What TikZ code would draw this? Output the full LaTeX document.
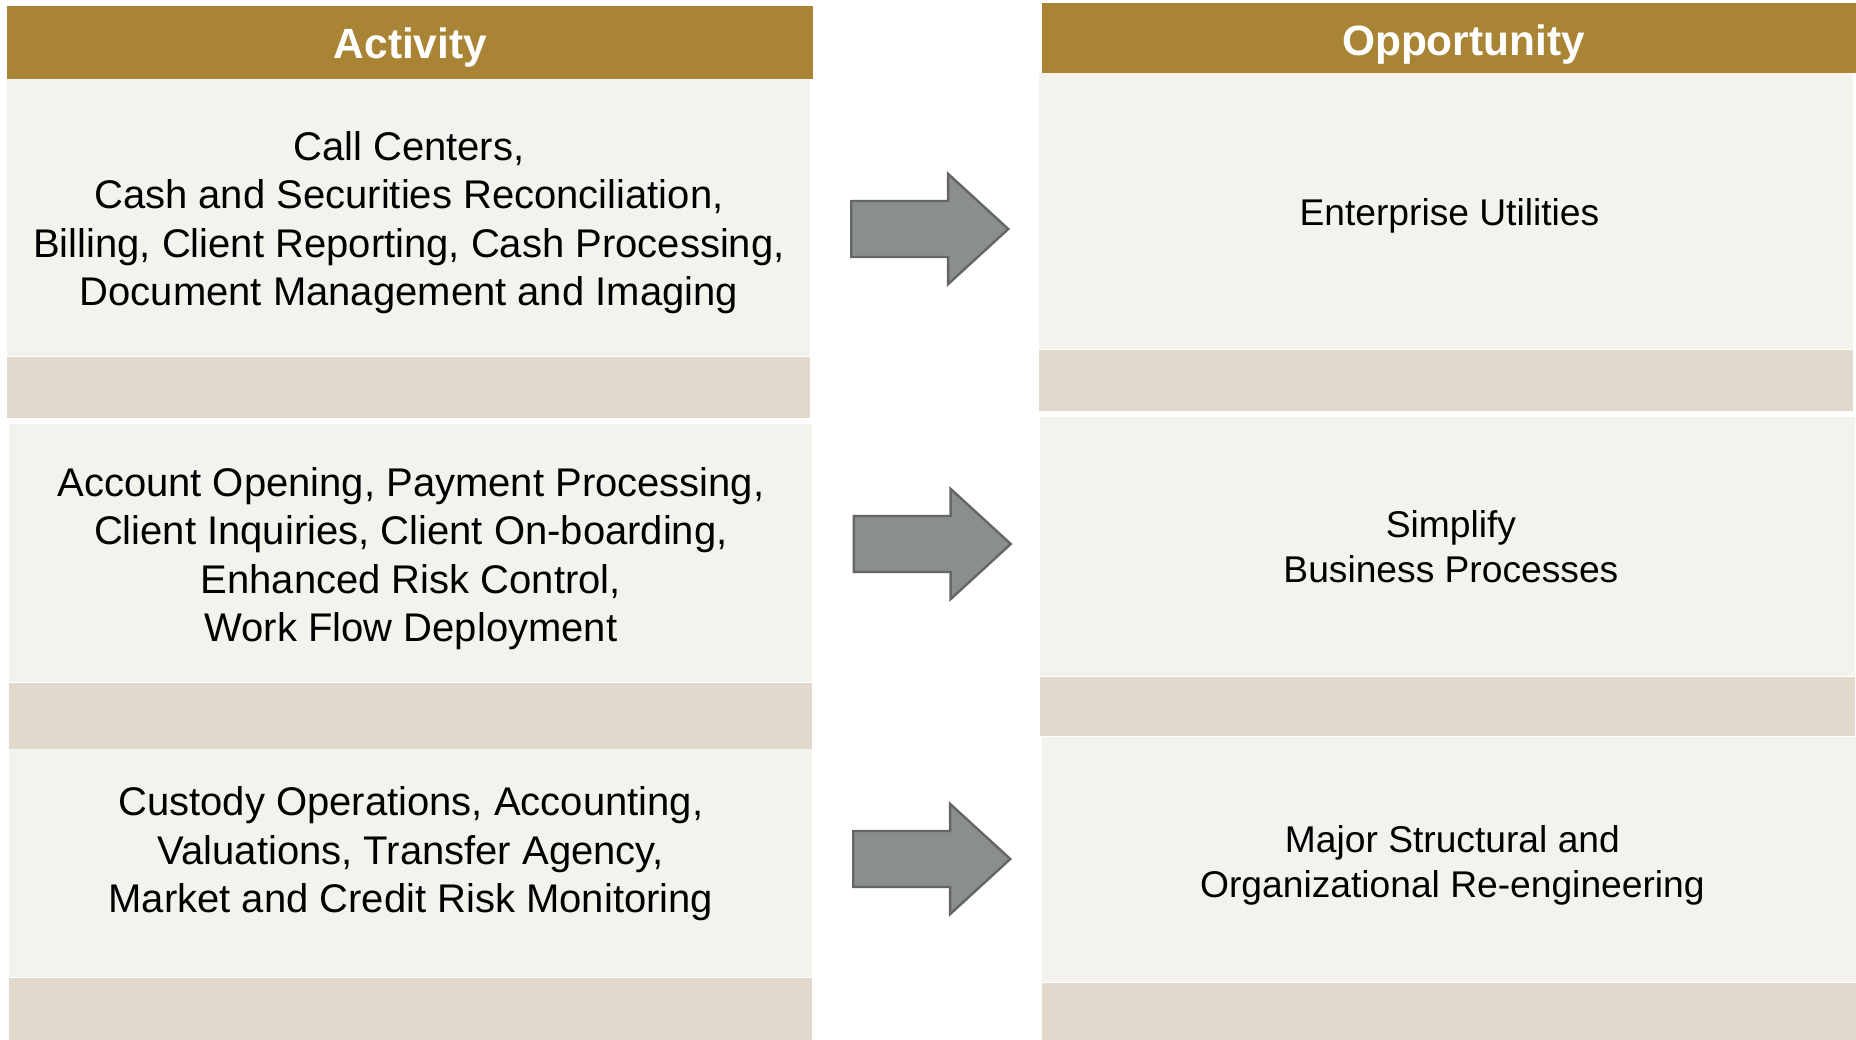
\documentclass[tikz,border=0pt]{standalone}
\usepackage{fontspec}
\setmainfont{Liberation Sans}
\usepackage{tikz}
\usetikzlibrary{positioning}
\usetikzlibrary{shapes.arrows}
\definecolor{gold}{HTML}{AA8435}
\definecolor{paper}{HTML}{F4F2ED}
\definecolor{band}{HTML}{E0D9CC}
\definecolor{arrowgray}{HTML}{8B8E8E}
\definecolor{arrowline}{HTML}{636567}
\tikzstyle{header}=[fill=gold,text=white,inner sep=0pt,anchor=north west,minimum height=36.5pt,font=\fontsize{21.2}{25}\selectfont\bfseries]
\tikzstyle{paperbox}=[fill=paper,inner sep=0pt,anchor=north west]
\tikzstyle{bandbox}=[fill=band,inner sep=0pt]
\tikzstyle{lefttext}=[align=center,inner sep=0pt,font=\fontsize{20}{24.25}\selectfont]
\tikzstyle{righttext}=[align=center,inner sep=0pt,font=\fontsize{18.6}{22.5}\selectfont]
\tikzstyle{bigarrow}=[single arrow,fill=arrowgray,draw=arrowline,line width=1.2pt,inner xsep=0pt,inner ysep=13.4pt,minimum height=78.5pt,single arrow head extend=13.6pt,single arrow tip angle=85]

\begin{document}
\begin{tikzpicture}[x=0.5pt,y=-0.5pt]
\useasboundingbox (0,0) rectangle (1856,1039);
% column heads
\node [header,minimum width=403pt] (acthead) at (7,6) {};
\node [header,minimum width=407pt,minimum height=35pt] (opphead) at (1042,3) {};
\node [header,anchor=center,fill=none,minimum height=0pt] (acttitle) at (acthead) [yshift=-2.4pt] {Activity};
\node [header,anchor=center,fill=none,minimum height=0pt] (opptitle) at (opphead) [xshift=7pt,yshift=-2.9pt] {Opportunity};

% activity column
\node [paperbox,minimum width=401.5pt,minimum height=138.5pt] (a1) at (7,79) {};
\node [bandbox,minimum width=401.5pt,minimum height=30.5pt,below=0pt of a1] (a1b) {};
\node [paperbox,minimum width=401.5pt,minimum height=129pt] (a2) at (9,424) {};
\node [bandbox,minimum width=401.5pt,minimum height=33.5pt,below=0pt of a2] (a2b) {};
\node [paperbox,minimum width=401.5pt,minimum height=114pt] (a3) at (9,749) {};
\node [bandbox,minimum width=401.5pt,minimum height=31pt,below=0pt of a3] (a3b) {};

% opportunity column
\node [paperbox,minimum width=407pt,minimum height=138pt] (o1) at (1039,73) {};
\node [bandbox,minimum width=407pt,minimum height=30.5pt,below=0pt of o1] (o1b) {};
\node [paperbox,minimum width=407.5pt,minimum height=129.5pt] (o2) at (1040,417) {};
\node [bandbox,minimum width=407.5pt,minimum height=29.5pt,below=0pt of o2] (o2b) {};
\node [paperbox,minimum width=407pt,minimum height=122.5pt] (o3) at (1042,737) {};
\node [bandbox,minimum width=407pt,minimum height=28.5pt,below=0pt of o3] (o3b) {};

\node [lefttext] (t1) at (a1) [yshift=-2.5pt] {Call Centers,\\Cash and Securities Reconciliation,\\Billing, Client Reporting, Cash Processing,\\Document Management and Imaging};
\node [lefttext] (t2) at (a2) [yshift=-2.5pt] {Account Opening, Payment Processing,\\Client Inquiries, Client On-boarding,\\Enhanced Risk Control,\\Work Flow Deployment};
\node [lefttext] (t3) at (a3) [yshift=4.7pt] {Custody Operations, Accounting,\\Valuations, Transfer Agency,\\Market and Credit Risk Monitoring};

\node [righttext] (u1) at (o1) [xshift=1.5pt,yshift=-2.4pt] {Enterprise Utilities};
\node [righttext] (u2) at (o2) [xshift=1.5pt] {Simplify\\Business Processes};
\node [righttext] (u3) at (o3) [xshift=1.5pt,yshift=-2.7pt] {Major Structural and\\Organizational Re-engineering};

% arrows
\node [bigarrow] (ar1) at (914.5,229) {};
\node [bigarrow] (ar2) at (917,544) {};
\node [bigarrow] (ar3) at (916.5,859) {};
\end{tikzpicture}
\end{document}
